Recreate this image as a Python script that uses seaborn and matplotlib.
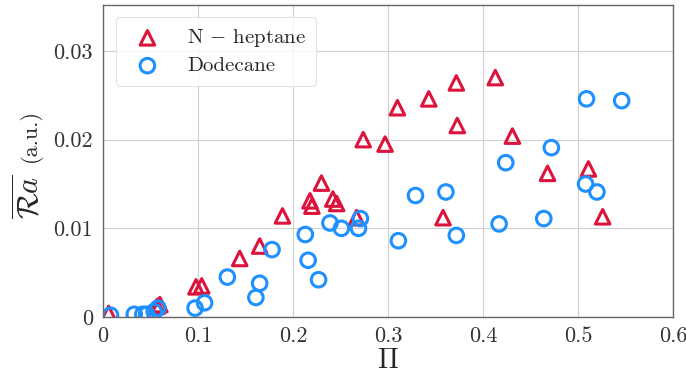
import matplotlib
matplotlib.use('Agg')
import matplotlib.pyplot as plt
import seaborn as sns
import pandas as pd

# values
heptane_pi = [0.006, 0.057, 0.060, 0.098, 0.104, 0.144, 0.165, 0.189, 0.218, 0.220,
              0.230, 0.242, 0.246, 0.267, 0.274, 0.297, 0.310, 0.343, 0.358, 0.372,
              0.373, 0.413, 0.431, 0.468, 0.511, 0.526]
heptane_ra = [0.0004, 0.0012, 0.0014, 0.0034, 0.0035, 0.0066, 0.0080, 0.0114, 0.0131, 0.0125,
              0.0151, 0.0133, 0.0128, 0.0112, 0.0200, 0.0195, 0.0236, 0.0246, 0.0112, 0.0264,
              0.0216, 0.0270, 0.0204, 0.0162, 0.0167, 0.0113]

dodecane_pi = [0.008, 0.033, 0.042, 0.046, 0.054, 0.058, 0.097, 0.107, 0.131, 0.161,
               0.165, 0.178, 0.213, 0.216, 0.227, 0.239, 0.251, 0.269, 0.271, 0.311,
               0.329, 0.361, 0.372, 0.417, 0.424, 0.464, 0.472, 0.508, 0.509, 0.520, 0.546]
dodecane_ra = [0.0002, 0.0003, 0.0003, 0.0003, 0.0006, 0.0010, 0.0010, 0.0016, 0.0045, 0.0022,
               0.0038, 0.0076, 0.0093, 0.0064, 0.0042, 0.0106, 0.0100, 0.0100, 0.0111, 0.0086,
               0.0137, 0.0141, 0.0092, 0.0105, 0.0174, 0.0111, 0.0191, 0.0150, 0.0246, 0.0141, 0.0244]

x_ticks = [0, 0.1, 0.2, 0.3, 0.4, 0.5, 0.6]
x_labels = ['0', '0.1', '0.2', '0.3', '0.4', '0.5', '0.6']
y_ticks = [0, 0.01, 0.02, 0.03]
y_labels = ['0', '0.01', '0.02', '0.03']

hep = pd.DataFrame({'Pi': heptane_pi, 'Ra': heptane_ra})
dod = pd.DataFrame({'Pi': dodecane_pi, 'Ra': dodecane_ra})

sns.set_style('whitegrid')
plt.rcParams['font.family'] = ['cmr10', 'DejaVu Serif']
plt.rcParams['mathtext.fontset'] = 'cm'
plt.rcParams['axes.formatter.use_mathtext'] = True

fig = plt.figure(figsize=(6.86, 3.76), dpi=100)
ax = fig.add_axes([0.150, 0.157, 0.831, 0.830])

red = '#dc143c'
blue = '#1e90ff'
sns.scatterplot(data=hep, x='Pi', y='Ra', marker='^', s=110, facecolor='none',
                edgecolor=red, linewidth=2.2, label=r'N $-$ heptane', ax=ax)
sns.scatterplot(data=dod, x='Pi', y='Ra', marker='o', s=110, facecolor='none',
                edgecolor=blue, linewidth=2.2, label='Dodecane', ax=ax)

ax.set_xlim(0, 0.6)
ax.set_ylim(0, 0.0352)
ax.set_xticks(x_ticks)
ax.set_xticklabels(x_labels)
ax.set_yticks(y_ticks)
ax.set_yticklabels(y_labels)
ax.tick_params(labelsize=16, length=3, width=0.8, colors='#333333', pad=4)
ax.grid(True, color='#d0d0d0', linewidth=0.8)
for sp in ax.spines.values():
    sp.set_color('#666666')
    sp.set_linewidth(1.0)

ax.set_xlabel(r'$\Pi$', fontsize=20, labelpad=1)
ax.set_ylabel('')
ax.text(-0.130, 0.385, r'$\overline{\mathcal{R}a}$', fontsize=22, rotation=90,
        ha='center', va='center', transform=ax.transAxes)
ax.text(-0.127, 0.58, '(a.u.)', fontsize=16, rotation=90,
        ha='center', va='center', transform=ax.transAxes)

leg = ax.legend(loc='upper left', fontsize=15, frameon=True, borderpad=0.5,
                handletextpad=0.9, labelspacing=0.35, bbox_to_anchor=(0.005, 0.995))
leg.get_frame().set_edgecolor('#dddddd')
leg.get_frame().set_linewidth(0.8)

fig.savefig('out.png', dpi=100)
